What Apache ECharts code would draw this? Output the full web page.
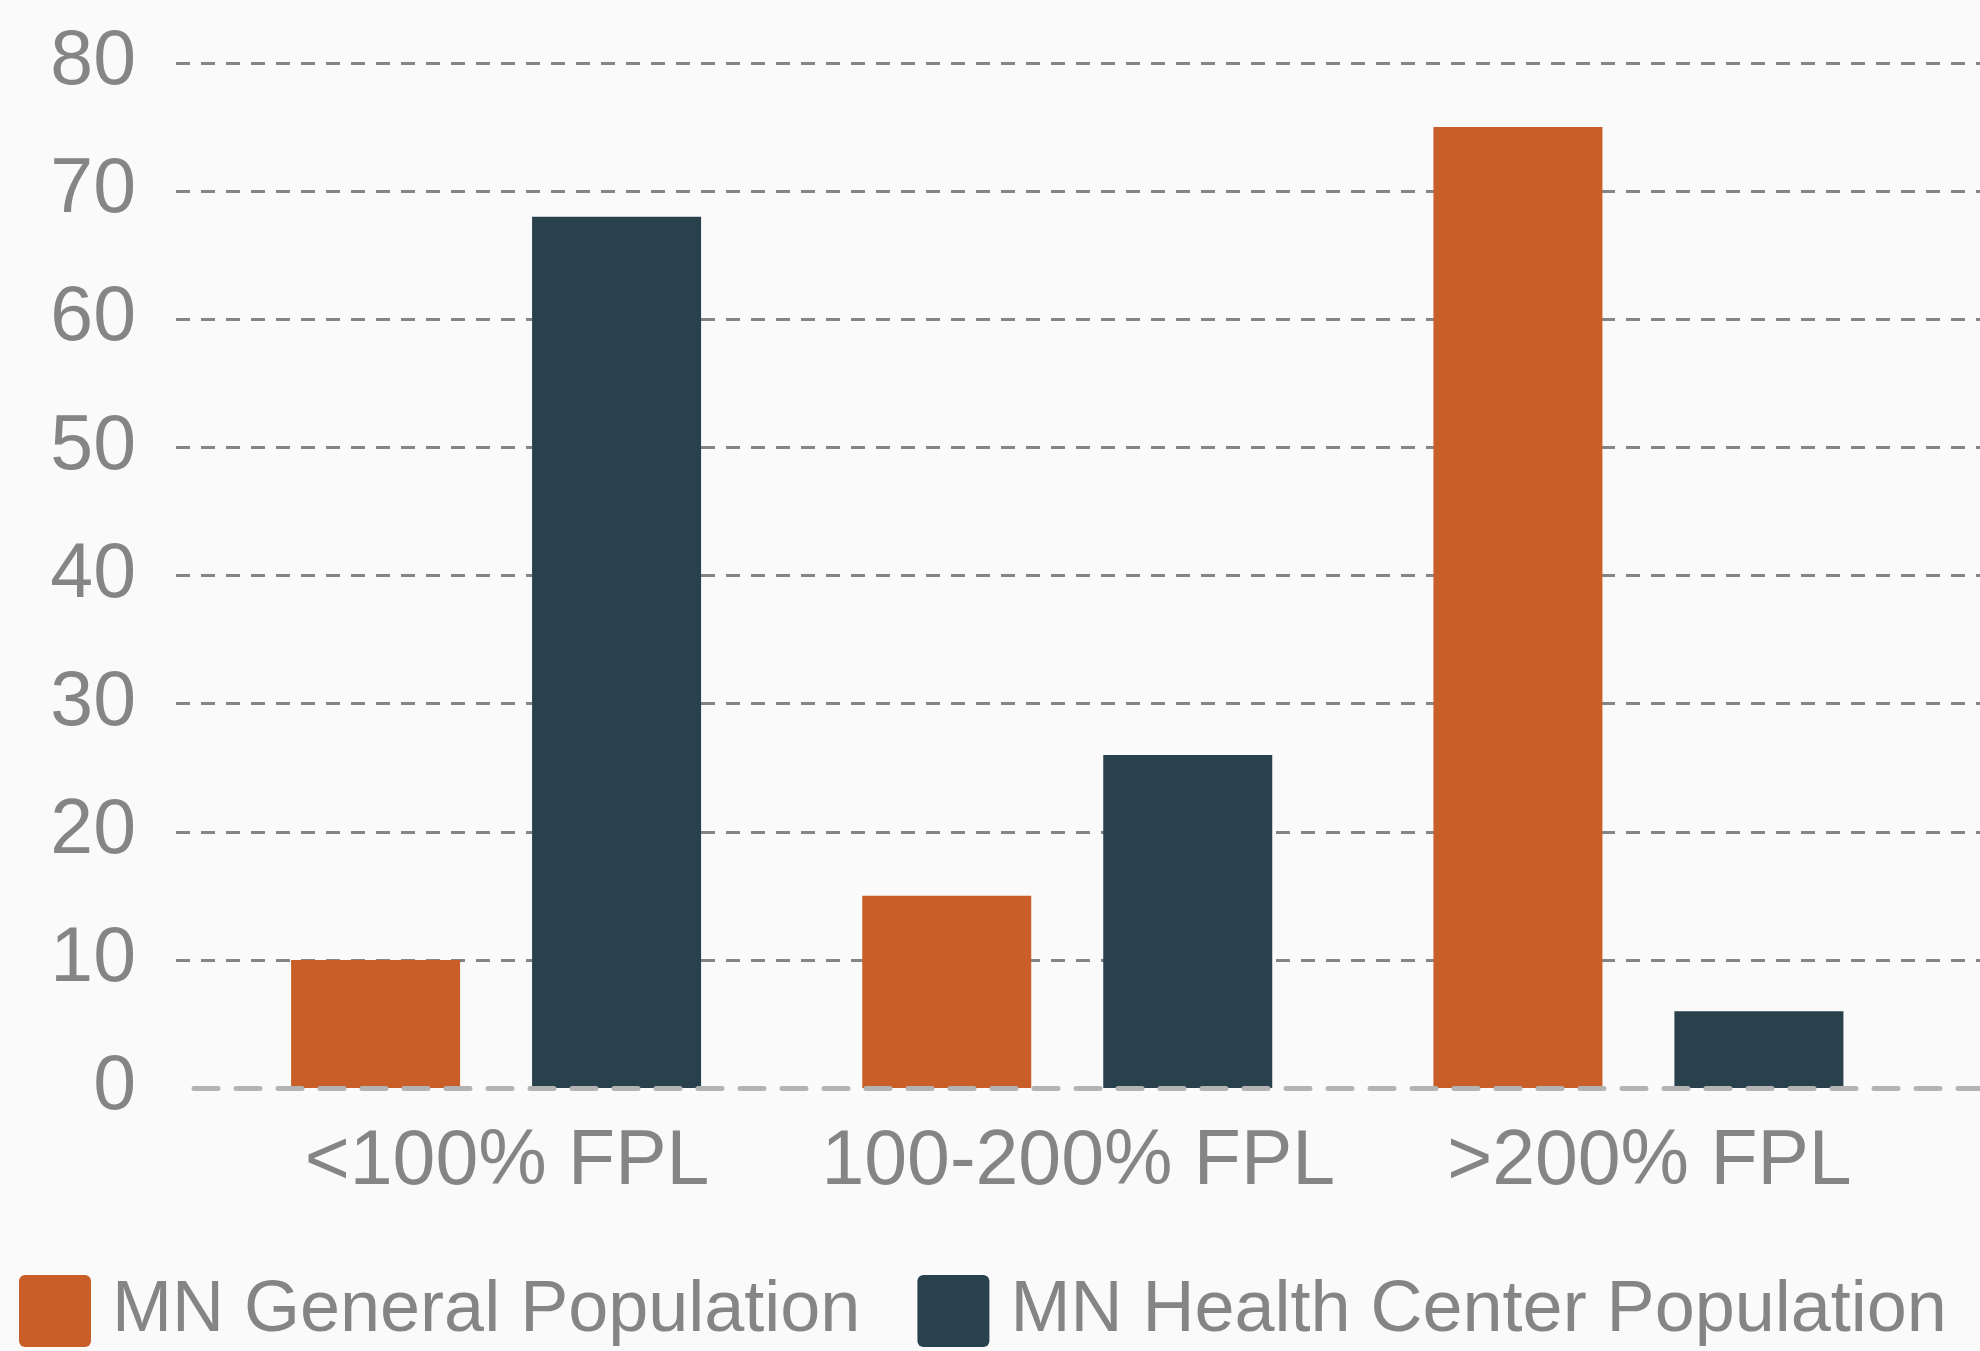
<!DOCTYPE html>
<html>
<head>
<meta charset="utf-8">
<script src="https://cdn.jsdelivr.net/npm/echarts@6/dist/echarts.min.js"></script>
<style>
html,body{margin:0;padding:0;background:#fafafa;}
#main{width:1980px;height:1351px;}
</style>
</head>
<body>
<div id="main"></div>
<script>
const categories = ['<100% FPL', '100-200% FPL', '>200% FPL'];
const seriesNames = ['MN General Population', 'MN Health Center Population'];
const generalPop = [10, 15, 75];
const healthCenterPop = [68, 26, 6];
const yTicks = { min: 0, max: 80, interval: 10 };

const FONT = "'Liberation Sans', Arial, Helvetica, sans-serif";
const GRAY = '#858585';
const ORANGE = '#ca5e29';
const DARK = '#29414d';

const chart = echarts.init(document.getElementById('main'), null, {renderer: 'canvas'});
const TOP = 63, BOTTOM = 263;

chart.setOption({
  backgroundColor: '#fafafa',
  animation: false,
  textStyle: { fontFamily: FONT },
  grid: [
    { left: 210.5, right: 56, top: TOP, bottom: BOTTOM },
    { left: 176, right: 0, top: TOP, bottom: BOTTOM },
    { left: 194, right: 0, top: TOP, bottom: BOTTOM }
  ],
  legend: {
    left: 14, top: 1270,
    itemWidth: 72, itemHeight: 72, itemGap: 57,
    icon: 'path://M6,0H66A6,6 0 0 1 72,6V66A6,6 0 0 1 66,72H6A6,6 0 0 1 0,66V6A6,6 0 0 1 6,0Z',
    textStyle: { fontSize: 72, color: GRAY, fontFamily: FONT, padding: [8, 0, 0, 16] },
    data: seriesNames
  },
  xAxis: [
    {
      gridIndex: 0, type: 'category', data: categories,
      axisLine: { show: false }, axisTick: { show: false },
      axisLabel: { interval: 0, fontSize: 77, color: GRAY, margin: 36, fontFamily: FONT, padding: [0, 0, 0, 22] },
      splitLine: { show: false }
    },
    { gridIndex: 1, type: 'value', show: false },
    {
      gridIndex: 2, type: 'value', min: 0, max: 1, z: 10,
      axisLine: { show: true, lineStyle: { color: '#b3b3b3', width: 5, type: [24, 18] } },
      axisTick: { show: false }, axisLabel: { show: false }, splitLine: { show: false }
    }
  ],
  yAxis: [
    { gridIndex: 0, type: 'value', min: yTicks.min, max: yTicks.max, interval: yTicks.interval, show: false, splitLine: { show: false } },
    {
      gridIndex: 1, type: 'value', min: yTicks.min, max: yTicks.max, interval: yTicks.interval,
      axisLine: { show: false }, axisTick: { show: false },
      axisLabel: { fontSize: 77, color: GRAY, margin: 40, fontFamily: FONT },
      splitLine: { show: true, showMinLine: false, lineStyle: { color: GRAY, width: 3, type: [14, 11] } }
    },
    { gridIndex: 2, type: 'value', min: yTicks.min, max: yTicks.max, show: false, splitLine: { show: false } }
  ],
  series: [
    {
      name: seriesNames[0], type: 'bar', xAxisIndex: 0, yAxisIndex: 0,
      data: generalPop, barWidth: 169, barGap: '42.6%',
      itemStyle: { color: ORANGE }
    },
    {
      name: seriesNames[1], type: 'bar', xAxisIndex: 0, yAxisIndex: 0,
      data: healthCenterPop, barWidth: 169, barGap: '42.6%',
      itemStyle: { color: DARK }
    }
  ]
});
</script>
</body>
</html>
